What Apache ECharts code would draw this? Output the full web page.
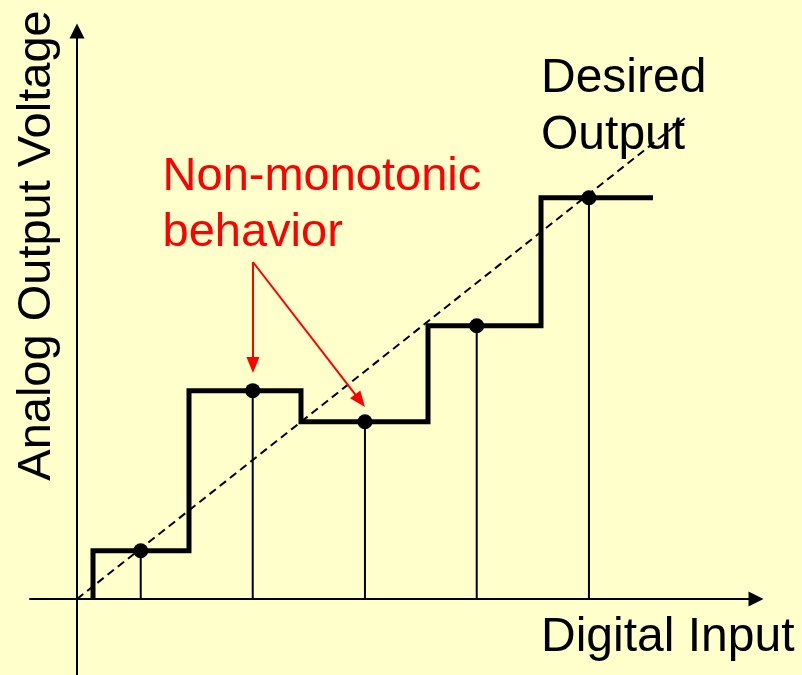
<!DOCTYPE html>
<html>
<head>
<meta charset="utf-8">
<script src="https://cdn.jsdelivr.net/npm/echarts@6/dist/echarts.min.js"></script>
<style>
html,body{margin:0;padding:0;background:#FFFFCC;}
#chart{width:802px;height:675px;}
</style>
</head>
<body>
<div id="chart"></div>
<script>
// ---- data (code units on the digital input axis, volts-like units on output axis) ----
const stepEdges = [0.143, 1.0, 2.0, 3.134, 4.143, 5.143];     // x where output steps change
const stepLevels = [0.431, 1.86, 1.583, 2.44, 3.583];          // analog output level of each code
const codeCenters = [0.569, 1.569, 2.571, 3.569, 4.571];       // sample point of each code
const idealLine = [[0, 0], [5.43, 4.295]];                     // desired output (dashed)
const arrowStart = [1.571, 3.009];
const arrowTips = [[1.571, 2.018], [2.571, 1.714]];
const xLimits = [-0.4196, 6.0625];
const yLimits = [-0.6786, 5.0714];
const xTitle = 'Digital Input';
const yTitle = 'Analog Output Voltage';
const idealTitle = 'Desired\nOutput';
const noteText = 'Non-monotonic\nbehavior';

// ---- build ----
const stair = [[stepEdges[0], 0]];
for (let i = 0; i < stepLevels.length; i++) {
  stair.push([stepEdges[i], stepLevels[i]]);
  stair.push([stepEdges[i + 1], stepLevels[i]]);
}
const dots = codeCenters.map((x, i) => [x, stepLevels[i]]);

const stemSeries = dots.map(p => ({
  type: 'line', data: [[p[0], 0], p], symbol: 'none', silent: true, z: 3,
  lineStyle: { color: '#000', width: 2 }
}));

// arrow heads are centred on the line end: back off by half the head length
const headLen = 16, pxPerUnit = 112;
const arrowLines = arrowTips.map(t => {
  const dx = t[0] - arrowStart[0], dy = t[1] - arrowStart[1];
  const len = Math.hypot(dx, dy);
  const back = headLen / 2 / pxPerUnit;
  return [{ coord: arrowStart, symbol: 'none' },
          { coord: [t[0] - dx / len * back, t[1] - dy / len * back] }];
});

const font = '"Liberation Sans", Arial, sans-serif';
function textSeries(pos, text, opts) {
  return {
    type: 'scatter', symbolSize: 0, silent: true, z: 10, data: [pos],
    itemStyle: { opacity: 1 },
    label: Object.assign({
      show: true, position: 'inside', formatter: text,
      fontFamily: font, fontSize: 48, color: '#000', opacity: 1,
      align: 'left', verticalAlign: 'middle', lineHeight: 56
    }, opts || {})
  };
}

const chart = echarts.init(document.getElementById('chart'), null, { renderer: 'canvas' });
const axisCommon = {
  type: 'value',
  axisLine: { show: true, onZero: true, symbol: ['none', 'triangle'], symbolSize: [15, 15],
              lineStyle: { color: '#000', width: 2 } },
  axisTick: { show: false }, axisLabel: { show: false }, splitLine: { show: false }
};
chart.setOption({
  backgroundColor: '#FFFFCC',
  animation: false,
  grid: { left: 30, right: 46, top: 31, bottom: 0, containLabel: false },
  xAxis: Object.assign({}, axisCommon, { min: xLimits[0], max: xLimits[1] }),
  yAxis: Object.assign({}, axisCommon, { min: yLimits[0], max: yLimits[1] }),
  series: [
    { type: 'line', data: idealLine, symbol: 'none', silent: true, z: 2,
      lineStyle: { color: '#000', width: 2, type: [8, 5] } },
    ...stemSeries,
    { type: 'line', data: stair, symbol: 'none', silent: true, z: 4,
      lineStyle: { color: '#000', width: 5, join: 'miter', cap: 'butt' } },
    { type: 'scatter', data: dots, symbol: 'circle', symbolSize: 15, silent: true, z: 5,
      itemStyle: { color: '#000', opacity: 1 },
      markLine: {
        silent: true, symbol: ['none', 'triangle'], symbolSize: [13, headLen],
        label: { show: false },
        lineStyle: { color: '#FF0000', width: 2, type: 'solid', opacity: 1 },
        itemStyle: { color: '#FF0000', opacity: 1 },
        emphasis: { disabled: true },
        data: arrowLines
      } },
    textSeries([4.143, -0.343], xTitle),
    textSeries([4.143, 4.394], idealTitle, { lineHeight: 57 }),
    textSeries([0.764, 3.514], noteText, { color: '#FF0000', fontSize: 47 }),
    textSeries([-0.354, 3.156], yTitle, { rotate: 90, align: 'center', fontSize: 47 })
  ]
});
</script>
</body>
</html>
